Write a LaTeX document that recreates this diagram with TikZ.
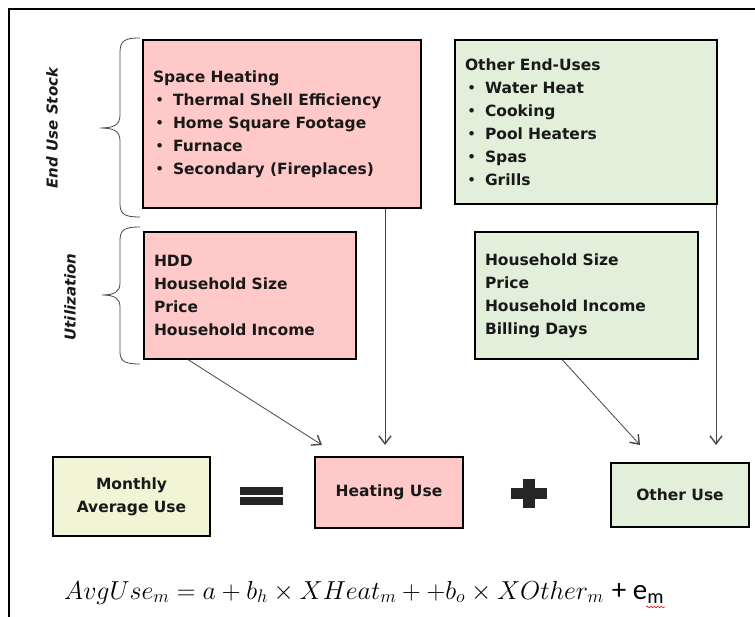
\documentclass[tikz,border=0pt]{standalone}
\usepackage{fix-cm}
\usepackage{fontspec}
\setmainfont{DejaVu Sans}
\newfontfamily\calib{Carlito}
\usepackage{tikz}
\usetikzlibrary{arrows.meta,decorations.pathmorphing,calc}

\definecolor{heatpink}{RGB}{255,201,201}
\definecolor{othergreen}{RGB}{226,239,218}
\definecolor{avgyellow}{RGB}{242,245,213}
\definecolor{linegray}{RGB}{70,70,70}
\newcommand{\bul}{\makebox[20pt][l]{\hspace{2pt}\mdseries\textbullet}}

\begin{document}
\begin{tikzpicture}[x=1pt,y=-1pt,
  box/.style={draw=black, line width=1.5pt, inner ysep=0pt, inner xsep=10pt, text=black!90,
    font=\fontsize{15.5}{23}\selectfont\bfseries},
  listbox/.style={box, align=left, text width=#1},
  flow/.style={linegray, line width=0.8pt, -{Straight Barb[length=8pt,width=12pt,line width=1.4pt]}},
  brace/.style={linegray, line width=0.8pt},
  side/.style={rotate=90, text=black!90, font=\fontsize{15}{18}\selectfont\bfseries\itshape}]
\useasboundingbox (0,0) rectangle (755,617);
\draw [black, line width=2pt] (9,617) -- (9,9) -- (755,9);

% side labels and braces
\node [side] (stocklbl) at (52,128) {End Use Stock};
\node [side] (utillbl) at (70,297) {Utilization};
\draw [brace] (140,38) .. controls (126,38) and (120,40) .. (120,52) -- (120,115)
  .. controls (120,125) and (114,128) .. (100,128) .. controls (114,128) and (120,131) .. (120,141)
  -- (120,204) .. controls (120,215) and (126,217) .. (140,217);
\draw [brace] (140,227) .. controls (126,227) and (120,229) .. (120,240) -- (120,283)
  .. controls (120,292) and (114,295) .. (102,295) .. controls (114,295) and (120,298) .. (120,307)
  -- (120,352) .. controls (120,362) and (126,364) .. (140,364);

% top boxes
\node [listbox=258pt, fill=heatpink, minimum width=278pt, minimum height=168pt] (spaceheat) at (282,124)
  {Space Heating\\ \bul Thermal Shell Efficiency\\ \bul Home Square Footage\\ \bul Furnace\\ \bul Secondary (Fireplaces)};
\node [listbox=192pt, fill=heatpink, minimum width=212pt, minimum height=127pt] (hdd) at (250,295.5)
  {HDD\\ Household Size\\ Price\\ Household Income};
\node [listbox=242pt, fill=othergreen, minimum width=262pt, minimum height=164pt] (otherend) at (586,122)
  {Other End-Uses\\ \bul Water Heat\\ \bul Cooking\\ \bul Pool Heaters\\ \bul Spas\\ \bul Grills};
\node [listbox=203pt, fill=othergreen, minimum width=223pt, minimum height=127pt] (billing) at (586.5,295.5)
  {Household Size\\ Price\\ Household Income\\ Billing Days};

% bottom row
\node [box, align=center, fill=avgyellow, minimum width=157pt, minimum height=79pt] (monthly) at (131.5,496.5)
  {Monthly\\ Average Use};
\node [box, align=center, fill=heatpink, minimum width=148pt, minimum height=71pt] (heatuse) at (389,492.5)
  {Heating Use};
\node [box, align=center, fill=othergreen, minimum width=138pt, minimum height=64pt] (otheruse) at (680,495)
  {Other Use};
\fill [black!85] (240,487) rectangle (283,495);
\fill [black!85] (240,497) rectangle (283,505);
\fill [black!85] (523,479) rectangle (535,508);
\fill [black!85] (511,488) rectangle (547,499);

% arrows
\coordinate (heattip) at (385,445);
\coordinate (hddtip) at (322,445);
\coordinate (billtip) at (640,445);
\coordinate (othertip) at (716,445);
\draw [flow] (spaceheat.south -| heattip) -- (heattip);
\draw [flow] ([xshift=45pt]hdd.south west) -- (hddtip);
\draw [flow] ([xshift=88pt]billing.south west) -- (billtip);
\draw [flow] (otherend.south -| othertip) -- (othertip);

% equation
\node [anchor=base west, inner sep=0pt, font=\fontsize{26}{28}\selectfont] (eqn) at (64,599)
  {$AvgUse_m = a + b_h \times XHeat_m + +b_o \times XOther_m$ {\calib\fontsize{29}{30}\selectfont + e\textsubscript{m}}};
\draw [red, line width=0.6pt, decorate, decoration={snake, amplitude=0.8pt, segment length=3.5pt}]
  ([xshift=-18pt,yshift=-8pt]eqn.base east) -- ([xshift=1pt,yshift=-8pt]eqn.base east);
\end{tikzpicture}
\end{document}
